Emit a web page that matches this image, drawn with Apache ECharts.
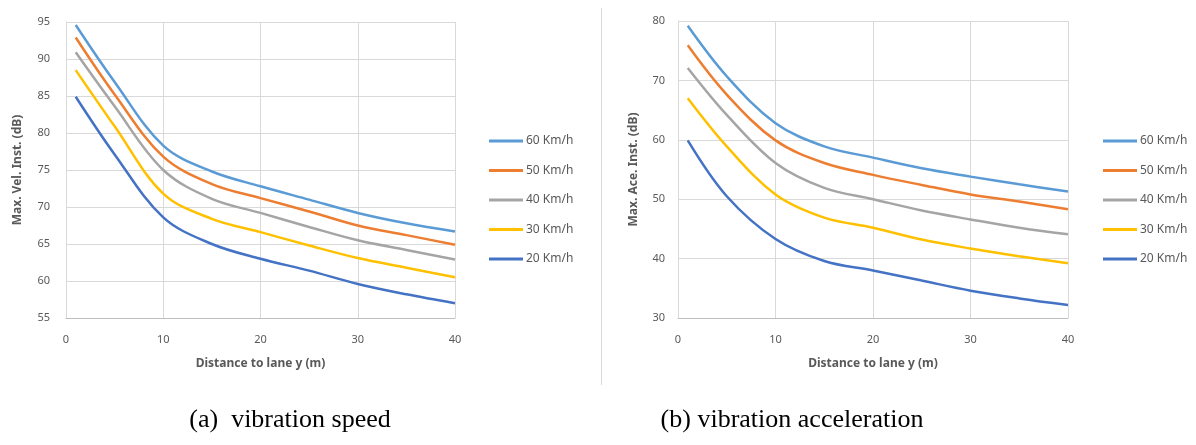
<!DOCTYPE html>
<html>
<head>
<meta charset="utf-8">
<script src="https://cdn.jsdelivr.net/npm/echarts@6/dist/echarts.min.js"></script>
<style>
  html, body { margin: 0; padding: 0; background: #fff; }
  #chart { width: 1196px; height: 445px; }
</style>
</head>
<body>
<div id="chart"></div>
<script>
// distances (m)
const distance = [1, 5, 10, 15, 20, 25, 30, 35, 40];
const speedNames = ['60 Km/h', '50 Km/h', '40 Km/h', '30 Km/h', '20 Km/h'];
const lineColors = ['#5B9BD5', '#ED7D31', '#A5A5A5', '#FFC000', '#4472C4'];

// (a) vibration speed, Max. Vel. Inst. (dB)
const vel60 = [94.6, 86.9, 78.3, 74.8, 72.8, 71.0, 69.2, 67.8, 66.7];
const vel50 = [92.9, 85.2, 76.8, 73.1, 71.2, 69.4, 67.5, 66.2, 64.9];
const vel40 = [90.9, 83.6, 75.0, 71.1, 69.2, 67.3, 65.5, 64.2, 62.9];
const vel30 = [88.5, 80.9, 71.8, 68.4, 66.6, 64.8, 63.1, 61.8, 60.5];
const vel20 = [84.9, 77.1, 68.6, 65.0, 63.0, 61.4, 59.6, 58.2, 57.0];

// (b) vibration acceleration, Max. Ace. Inst. (dB)
const acc60 = [79.2, 70.7, 62.8, 58.9, 57.0, 55.2, 53.8, 52.5, 51.3];
const acc50 = [75.9, 67.6, 59.9, 56.1, 54.1, 52.4, 50.8, 49.6, 48.3];
const acc40 = [72.1, 64.2, 56.1, 51.9, 50.0, 48.1, 46.6, 45.2, 44.1];
const acc30 = [67.0, 58.9, 50.8, 46.9, 45.2, 43.2, 41.7, 40.4, 39.2];
const acc20 = [59.9, 50.5, 43.3, 39.6, 38.0, 36.3, 34.6, 33.3, 32.2];

const velData = [vel60, vel50, vel40, vel30, vel20];
const accData = [acc60, acc50, acc40, acc30, acc20];

const txt = '#595959';
const font = 'Noto Sans';

function pairs(ys){
    return distance.map((x,i)=>[x, ys[i]]);
}

function makeSeries(list, idx){
    return list.map((ys,i)=>({
        name: speedNames[i],
        type: 'line',
        xAxisIndex: idx,
        yAxisIndex: idx,
        smooth: 0.35,
        symbol: 'none',
        lineStyle: { width: 2.5, color: lineColors[i] },
        itemStyle: { color: lineColors[i] },
        data: pairs(ys)
    }));
}

function xAx(idx){
    return {
        gridIndex: idx, type: 'value', min: 0, max: 40, interval: 10,
        name: 'Distance to lane y (m)', nameLocation: 'middle', nameGap: 40,
        nameTextStyle: { color: txt, fontWeight: 'bold', fontSize: 12, fontFamily: font },
        axisLine: { show: true, lineStyle: { color: '#BFBFBF', width: 1 } },
        axisTick: { show: false },
        axisLabel: { color: txt, fontSize: 11, fontFamily: font, margin: 16 },
        splitLine: { show: true, lineStyle: { color: '#D9D9D9', width: 1 } }
    };
}

function yAx(idx, name, min, max, step, gap, lblMargin){
    return {
        gridIndex: idx, type: 'value', min: min, max: max, interval: step,
        name: name, nameLocation: 'middle', nameGap: gap,
        nameTextStyle: { color: txt, fontWeight: 'bold', fontSize: 12, fontFamily: font },
        axisLine: { show: true, lineStyle: { color: '#D9D9D9', width: 1 } },
        axisTick: { show: false },
        axisLabel: { color: txt, fontSize: 11, fontFamily: font, margin: lblMargin },
        splitLine: { show: true, lineStyle: { color: '#D9D9D9', width: 1 } }
    };
}

function legendAt(left){
    return {
        orient: 'vertical', left: left, top: 135, padding: 0,
        data: speedNames.map(n=>({ name: n })),
        icon: 'rect', itemWidth: 34, itemHeight: 3, itemGap: 17.5,
        textStyle: { color: txt, fontSize: 12, fontFamily: font, padding: [0,0,0,-2] }
    };
}

const chart = echarts.init(document.getElementById('chart'), null, { renderer: 'canvas' });

const option = {
    backgroundColor: '#fff',
    animation: false,
    grid: [
        { left: 66, top: 22, width: 389, height: 296 },
        { left: 678, top: 21, width: 390, height: 297 }
    ],
    xAxis: [xAx(0), xAx(1)],
    yAxis: [
        yAx(0, 'Max. Vel. Inst. (dB)', 55, 95, 5, 42, 16),
        yAx(1, 'Max. Ace. Inst. (dB)', 30, 80, 10, 38, 13)
    ],
    legend: [legendAt(489), legendAt(1103)],
    series: [].concat(makeSeries(velData, 0), makeSeries(accData, 1)),
    graphic: [
        { type: 'line', shape: { x1: 601.5, y1: 8, x2: 601.5, y2: 385 }, style: { stroke: '#D9D9D9', lineWidth: 1 } },
        { type: 'text', x: 290, y: 420, style: { text: '(a)  vibration speed', font: '26px "Liberation Serif"', fill: '#000', textAlign: 'center', textVerticalAlign: 'middle' } },
        { type: 'text', x: 792, y: 420, style: { text: '(b) vibration acceleration', font: '26px "Liberation Serif"', fill: '#000', textAlign: 'center', textVerticalAlign: 'middle' } }
    ]
};

chart.setOption(option);
</script>
</body>
</html>
